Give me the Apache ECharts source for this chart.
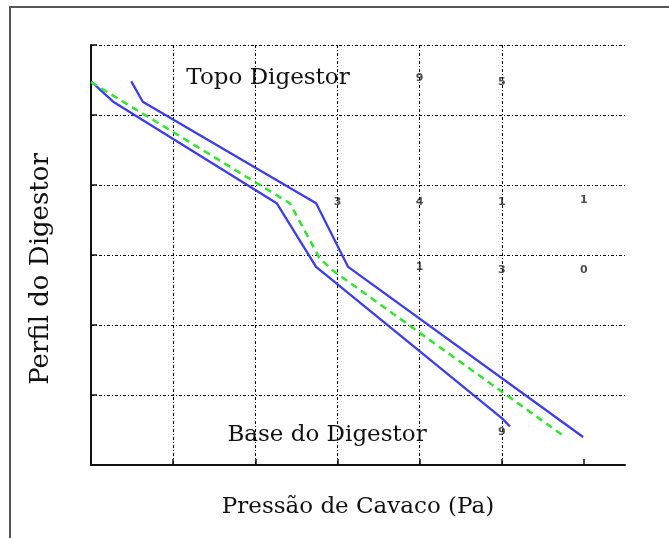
<!DOCTYPE html>
<html>
<head>
<meta charset="utf-8">
<script src="https://cdn.jsdelivr.net/npm/echarts@6/dist/echarts.min.js"></script>
<style>
  html, body { margin: 0; padding: 0; background: #fff; }
  #chart { width: 669px; height: 538px; }
</style>
</head>
<body>
<div id="chart"></div>
<script>
// perfil de pressao: limites (azul) e media (verde tracejado)
var lowerLimit = [[0.00, 5.48], [0.27, 5.19], [2.26, 3.74], [2.74, 2.83], [5.00, 0.67], [5.10, 0.55]];
var upperLimit = [[0.49, 5.48], [0.63, 5.19], [2.74, 3.74], [3.13, 2.83], [5.99, 0.40]];
var meanProfile = [[0.00, 5.47], [2.42, 3.74], [2.78, 2.96], [2.93, 2.79], [5.77, 0.40]];

// marcas do eixo x (sem rotulos)
var xTicks = [0, 1, 2, 3, 4, 5, 6];

// restos de rotulos que aparecem no grafico original
var strayMarks = [[4, 5.52, '9'], [5, 5.47, '5'], [3, 3.76, '3'], [4, 3.76, '4'], [5, 3.76, '1'],
                  [6, 3.78, '1'], [4, 2.83, '1'], [5, 2.78, '3'], [6, 2.78, '0'], [5, 0.47, '9']];

var xName = 'Pressão de Cavaco (Pa)';
var yName = 'Perfil do Digestor';
var topLabel = 'Topo Digestor';
var baseLabel = 'Base do Digestor';

var serif = '"DejaVu Serif", serif';
var chart = echarts.init(document.getElementById('chart'));

var option = {
  backgroundColor: '#fff',
  animation: false,
  grid: { left: 91, top: 45, width: 534, height: 420 },
  xAxis: {
    type: 'value', min: 0, max: 6.5, interval: 1,
    name: xName, nameLocation: 'middle', nameGap: 31,
    nameTextStyle: { fontFamily: serif, fontSize: 23, color: '#111' },
    axisLine: { lineStyle: { color: '#111', width: 2 } },
    axisTick: { show: true, inside: true, length: 6, customValues: xTicks, lineStyle: { color: '#111', width: 1.5 } },
    axisLabel: { show: false },
    splitLine: { show: true, showMaxLine: false, lineStyle: { color: '#000', width: 1, type: [3, 2, 1, 2] } }
  },
  yAxis: {
    type: 'value', min: 0, max: 6, interval: 1,
    axisLine: { show: true, lineStyle: { color: '#111', width: 2 } },
    axisTick: { show: true, inside: true, length: 6, lineStyle: { color: '#111', width: 1.5 } },
    axisLabel: { show: false },
    splitLine: { show: true, lineStyle: { color: '#000', width: 1, type: [3, 2, 1, 2] } }
  },
  series: [
    {
      type: 'line', data: lowerLimit, symbol: 'none',
      lineStyle: { color: '#3c3cf2', width: 2.3 }
    },
    {
      type: 'line', data: upperLimit, symbol: 'none',
      lineStyle: { color: '#3c3cf2', width: 2.3 }
    },
    {
      type: 'line', data: meanProfile, symbol: 'none',
      lineStyle: { color: '#2ee82e', width: 2.5, type: [7, 5] }
    },
    {
      type: 'scatter', data: strayMarks, symbolSize: 0,
      label: {
        show: true, position: 'inside',
        formatter: function (p) { return p.data[2]; },
        fontSize: 11, fontWeight: 'bold', color: '#222', fontFamily: 'DejaVu Sans'
      }
    }
  ],
  graphic: [
    {
      type: 'rect', shape: { x: 10, y: 7, width: 700, height: 600 },
      style: { fill: 'none', stroke: '#555', lineWidth: 2 }, silent: true
    },
    {
      type: 'text', x: 268, y: 78,
      style: { text: topLabel, font: '23px ' + serif, fill: '#111', textAlign: 'center', textVerticalAlign: 'middle' }
    },
    {
      type: 'text', x: 327, y: 435,
      style: { text: baseLabel, font: '23px ' + serif, fill: '#111', textAlign: 'center', textVerticalAlign: 'middle' }
    },
    {
      type: 'text', x: 41, y: 269, rotation: Math.PI / 2,
      style: { text: yName, font: '26px ' + serif, fill: '#111', textAlign: 'center', textVerticalAlign: 'middle' }
    }
  ]
};

chart.setOption(option);
</script>
</body>
</html>
